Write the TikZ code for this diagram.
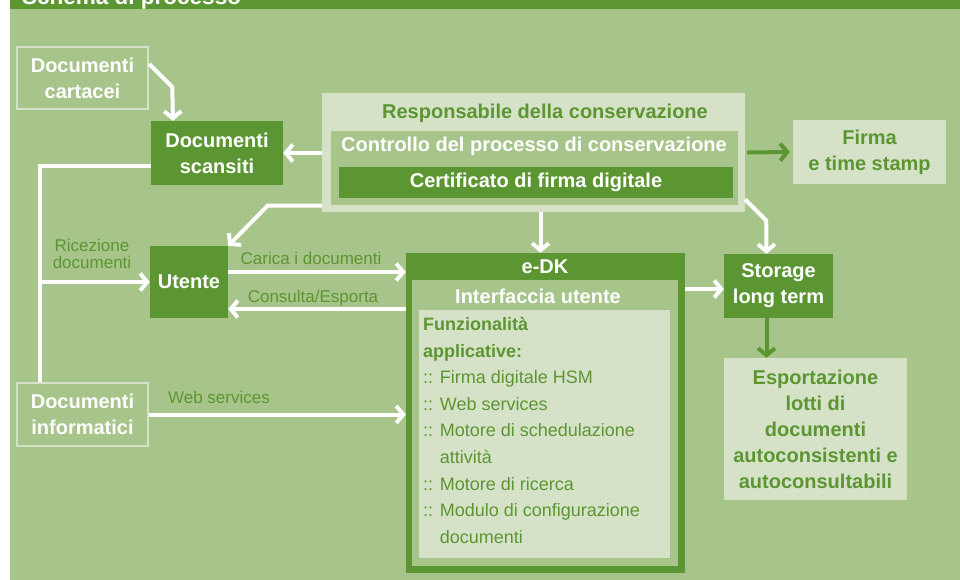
\documentclass[tikz,border=0pt]{standalone}
\usepackage{fontspec}
\setmainfont{Liberation Sans}
\usetikzlibrary{arrows.meta,positioning,calc}
\definecolor{dkgreen}{HTML}{5C9632}
\definecolor{pnlgreen}{HTML}{A7C48A}
\definecolor{ltgreen}{HTML}{D6E2C8}
\tikzset{%
    >={Straight Barb[length=7pt,width=17pt]},
    % Specifications for style of nodes:
    base/.style = {
        rectangle, inner sep=0pt, align=center,
        font=\bfseries\fontsize{20}{26}\selectfont
    },
    dark/.style = {base, fill=dkgreen, text=white},
    light/.style = {base, fill=ltgreen, text=dkgreen},
    outline/.style = {base, draw=ltgreen, line width=2.5pt, text=white},
    lbl/.style = {text=dkgreen, align=center, font=\fontsize{17}{17}\selectfont},
    % connectors
    wline/.style = {draw=white, line width=4pt},
    warrow/.style = {wline, ->},
    garrow/.style = {draw=dkgreen, line width=4pt, ->}
}

\begin{document}
\begin{tikzpicture}[x=1pt, y=-1pt]
    \useasboundingbox (0,0) rectangle (960,580);
    \fill[pnlgreen] (10,9) rectangle (960,580);
    \fill[dkgreen] (10,0) rectangle (960,9);
    \begin{scope}
        \clip (10,0) rectangle (960,9);
        \node[anchor=base west, inner sep=0pt, text=white, font=\bfseries\fontsize{22.5}{23}\selectfont] (title) at (22,5) {Schema di processo};
    \end{scope}

    % sources on the left
    \node[outline, minimum width=131pt, minimum height=62pt] (cartacei) at (82.5,78) {Documenti\\cartacei};
    \node[dark, minimum width=132pt, minimum height=64pt] (scansiti) at (217,153) {Documenti\\scansiti};
    \node[dark, minimum width=78pt, minimum height=72pt] (utente) at (189,282) {Utente};
    \node[outline, minimum width=131pt, minimum height=63pt] (informatici) at (82.5,414.5) {Documenti\\informatici};

    % responsabile della conservazione
    \node[light, minimum width=423pt, minimum height=119pt] (resp) at (533.5,152.5) {};
    \node[base, text=dkgreen] (resptitle) at (545,113) {Responsabile della conservazione};
    \node[base, fill=pnlgreen, minimum width=407pt, minimum height=74pt] (ctrl) at (534.5,168) {};
    \node[base, text=white] (ctrltitle) at (534,146) {Controllo del processo di conservazione};
    \node[dark, minimum width=394pt, minimum height=31pt] (cert) at (536,182.5) {Certificato di firma digitale};
    \node[light, minimum width=153pt, minimum height=64pt] (firma) at (869.5,152) {Firma\\e time stamp};

    % e-DK
    \node[dark, minimum width=279pt, minimum height=320pt] (edk) at (545.5,413) {};
    \node[base, text=white] (edktitle) at (545,267) {e-DK};
    \node[base, fill=pnlgreen, minimum width=266pt, minimum height=286pt] (ui) at (545,423) {};
    \node[base, text=white] (uititle) at (538,296) {Interfaccia utente};
    \node[light, minimum width=251pt, minimum height=248pt] (funz) at (544.5,434) {};
    \node[anchor=north west, inner sep=0pt, text=dkgreen, align=left,
          font=\fontsize{18}{26.6}\selectfont] (funztext) at (423,317)
        {\textbf{Funzionalità}\\
         \textbf{applicative:}\\
         :: Firma digitale HSM\\
         :: Web services\\
         :: Motore di schedulazione\\
         \hphantom{:: }attività\\
         :: Motore di ricerca\\
         :: Modulo di configurazione\\
         \hphantom{:: }documenti};

    % storage
    \node[dark, minimum width=109pt, minimum height=64pt] (storage) at (778.5,286) {Storage\\long term};
    \node[light, minimum width=183pt, minimum height=142pt] (export) at (815.5,429)
        {Esportazione\\lotti di\\documenti\\autoconsistenti e\\autoconsultabili};

    % connectors
    \coordinate (branch) at (40,282);
    \draw[warrow] ([yshift=14pt]cartacei.east) -- ++(23,23) -- ([xshift=-44pt]scansiti.north);
    \draw[warrow] (resp.west |- scansiti.east) -- (scansiti.east);
    \draw[warrow] ([yshift=-53pt]resp.west) -- ++(-54,0) -- (utente.north east);
    \draw[wline] ([yshift=-13pt]scansiti.west) -| ([xshift=-42.5pt]informatici.north);
    \draw[warrow] (branch) -- (utente.west);
    \node[lbl] (ricezione) at (92,254) {Ricezione\\documenti};
    \draw[warrow] ([yshift=10pt]utente.east) -- ([yshift=10pt]utente.east -| edk.west);
    \node[lbl] (carica) at (311,258) {Carica i documenti};
    \draw[warrow] ([yshift=-27pt]utente.east -| edk.west) -- ([yshift=-27pt]utente.east);
    \node[lbl] (consulta) at (313,298) {Consulta/Esporta};
    \draw[warrow] (informatici.east) -- (informatici.east -| edk.west);
    \node[lbl] (websrv) at (219,397) {Web services};
    \draw[warrow] ([xshift=-5pt]edk.north |- resp.south) -- ([xshift=-5pt]edk.north);
    \draw[warrow] ([yshift=-47pt]resp.east) -- ++(21,21) -- ([xshift=-12pt]storage.north);
    \draw[warrow] ([yshift=124pt]edk.east) -- ([yshift=124pt]edk.east -| storage.west);
    \draw[garrow] ([xshift=2pt]resp.east) -- ([xshift=-3pt]firma.west);
    \draw[garrow] ([xshift=-12pt]storage.south) -- ([xshift=-12pt]storage.south |- export.north);
\end{tikzpicture}
\end{document}
